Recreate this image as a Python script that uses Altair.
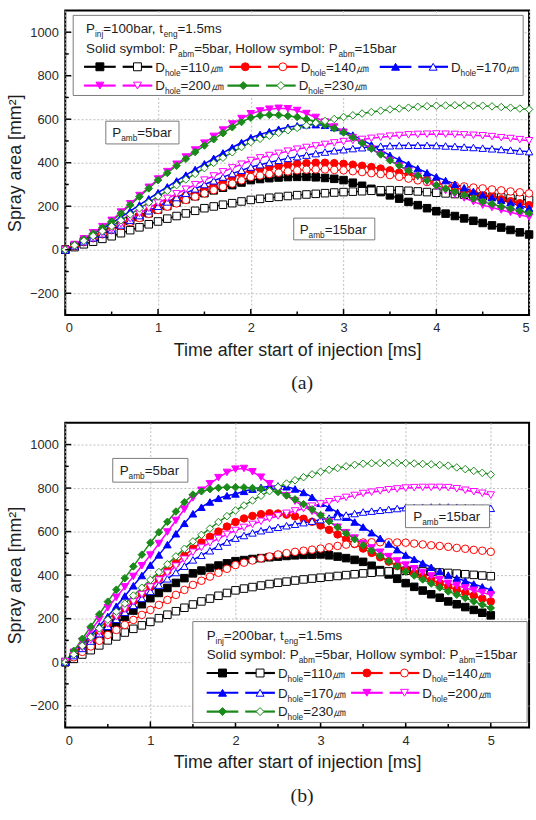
import altair as alt
import pandas as pd

# ---------------- data ----------------
T = [round(i * 0.1, 1) for i in range(51)]
DIAMS = [110, 140, 170, 200, 230]

# Panel (a): P_inj = 100 bar
A_S110 = [0,18,38,57,76,95, 114,132,150,168,185, 201,217,232,246,260, 273,285,297,309,320, 325,329,332,334,335, 335,333,330,326,320, 308,294,280,265,250, 235,220,205,191,177, 166,155,144,133,123, 112,102,91,80,70]
A_H110 = [0,12,25,37,50,62, 76,90,103,117,130, 143,155,167,179,191, 199,207,214,222,229, 234,239,243,247,251, 254,257,260,263,265, 267,269,271,273,274, 273,271,268,265,262, 259,256,253,249,246, 243,240,236,232,229]
A_S140 = [0,17,36,55,73,92, 113,134,155,177,198, 215,232,249,265,282, 299,316,333,349,365, 372,379,385,390,395, 398,400,400,398,395, 391,386,380,373,365, 355,345,334,322,310, 298,286,274,262,251, 242,232,223,214,205]
A_H140 = [0,17,35,53,71,90, 109,128,146,165,183, 198,213,229,244,259, 274,289,304,319,334, 341,348,354,360,365, 368,369,369,367,365, 361,357,352,348,343, 335,327,319,311,304, 300,295,291,286,282, 277,273,268,264,259]
A_S170 = [0,22,46,72,97,122, 150,178,206,234,262, 289,316,343,369,395, 420,445,470,493,515, 530,543,554,563,570, 574,575,572,562,547, 527,505,482,458,434, 413,393,373,354,335, 318,301,285,268,252, 240,228,216,203,191]
A_H170 = [0,18,37,55,73,92, 114,136,157,179,200, 220,240,260,280,300, 317,334,350,365,380, 391,401,411,420,428, 435,442,449,455,460, 465,469,473,476,478, 479,480,480,480,479, 477,475,472,470,467, 464,461,458,454,451]
A_S200 = [0,24,50,78,106,135, 173,211,249,287,325, 359,393,426,458,490, 521,550,578,603,625, 638,646,650,648,640, 626,608,587,564,540, 515,489,463,437,410, 385,361,337,313,290, 272,255,238,221,205, 194,183,172,161,150]
A_H200 = [0,18,37,57,76,95, 119,143,167,191,215, 236,257,278,299,320, 339,358,376,393,410, 422,433,443,453,462, 470,477,484,491,497, 502,507,512,517,522, 525,528,530,531,532, 531,530,528,526,524, 520,515,511,506,501]
A_S230 = [0,23,48,75,102,130, 168,206,244,282,320, 353,386,418,449,479, 508,536,563,587,607, 617,620,619,615,610, 600,588,574,558,539, 516,491,465,438,411, 387,364,341,319,297, 281,266,251,236,221, 210,199,189,178,168]
A_H230 = [0,20,41,63,85,108, 135,162,190,217,245, 271,297,323,349,375, 399,423,448,472,495, 510,524,537,549,560, 571,582,592,601,610, 618,626,633,639,645, 649,653,657,660,662, 663,664,663,662,662, 659,656,653,649,645]

# Panel (b): P_inj = 200 bar
B_S110 = [0,25,55,86,118,150, 179,208,237,266,294, 318,341,364,386,408, 421,433,444,454,464, 469,474,478,482,485, 488,491,493,494,495, 491,485,478,470,461, 443,423,403,383,363, 346,329,312,296,279, 266,253,240,227,215]
B_H110 = [0,15,35,55,77,100, 118,136,153,169,185, 202,218,234,250,265, 279,292,305,318,330, 338,345,352,359,365, 370,375,380,384,388, 392,396,400,404,408, 411,414,417,419,420, 419,417,415,412,410, 407,404,401,398,395]
B_S140 = [0,30,65,100,137,175, 210,245,280,314,347, 383,419,455,489,522, 550,576,600,623,644, 660,672,680,684,683, 678,670,659,645,628, 608,587,565,543,522, 502,482,462,442,423, 407,392,377,362,347, 333,319,306,292,279]
B_H140 = [0,22,47,72,98,125, 148,171,194,217,240, 263,286,309,332,355, 374,393,411,429,446, 457,467,477,486,495, 501,507,512,517,522, 528,534,540,545,550, 551,551,551,550,549, 545,541,537,534,530, 525,521,516,512,507]
B_S170 = [0,38,80,123,166,210, 257,304,351,398,446, 493,540,590,638,682, 712,736,753,765,773, 785,795,803,808,810, 806,796,780,758,730, 710,688,666,644,621, 595,569,543,517,492, 473,455,436,418,400, 386,373,359,346,332]
B_H170 = [0,30,63,97,131,165, 197,229,261,293,325, 354,383,412,441,470, 491,512,533,552,570, 582,594,604,612,620, 627,634,641,648,655, 662,669,676,683,690, 694,698,702,706,710, 711,712,713,713,713, 712,711,710,708,707]
B_S200 = [0,45,95,145,197,250, 298,346,394,443,492, 545,598,651,703,755, 790,820,848,872,887, 890,875,850,820,790, 765,740,716,693,670, 645,620,595,570,545, 525,505,485,465,446, 429,412,396,379,362, 352,341,330,320,309]
B_H200 = [0,32,67,102,138,175, 209,243,277,311,345, 377,409,441,473,505, 527,548,568,587,605, 619,633,647,660,672, 684,695,706,717,727, 737,747,757,766,775, 781,787,792,796,800, 802,803,803,803,802, 797,790,783,776,768]
B_S230 = [0,52,107,163,220,278, 333,386,440,494,549, 597,645,692,735,770, 785,795,801,804,804, 803,800,796,790,782, 766,748,726,702,675, 648,620,592,565,537, 512,488,464,440,416, 398,380,361,343,325, 310,295,279,264,249]
B_H230 = [0,35,75,115,155,195, 232,269,306,342,378, 414,450,486,521,555, 585,614,644,671,697, 720,743,765,786,805, 821,836,850,863,875, 884,892,900,907,912, 914,915,916,916,915, 913,911,909,906,903, 895,887,879,870,862]

X_LABELS = [0, 1, 2, 3, 4, 5]
X_MINOR = [0.5, 1.5, 2.5, 3.5, 4.5]
Y_LABELS = [-200, 0, 200, 400, 600, 800, 1000]
Y_MINOR = [-100, 100, 300, 500, 700, 900]
Y_DOMAIN = [-300, 1100]

# ---------------- styles ----------------
FONT = "Liberation Sans, Arial, Helvetica, sans-serif"
TXT = "#1e1e1e"
COLORS = {110: "#000000", 140: "#ff0000", 170: "#0000ff", 200: "#ff00ff", 230: "#1a8a1a"}
SHAPES = {110: "square", 140: "circle", 170: "triangle-up", 200: "triangle-down", 230: "diamond"}
PW = 469
PH = 308
MSIZE = 58
LFS = 13.5

CW = {' ': 278, '=': 584, ',': 278, '.': 278, ':': 278, 'P': 667, 'D': 722, 'S': 667,
      'H': 722, 'a': 556, 'b': 556, 'c': 500, 'd': 556, 'e': 556, 'g': 556, 'h': 556,
      'i': 222, 'j': 222, 'l': 222, 'm': 833, 'n': 556, 'o': 556, 'r': 333, 's': 500,
      't': 278, 'y': 500, 'w': 722, '\u339b': 1000}


def text_w(s, fs):
    return sum(CW.get(c, 556) for c in s) / 1000.0 * fs


def series_df(series):
    rows = []
    for D in DIAMS:
        for amb in (5, 15):
            for t, v in zip(T, series[(D, amb)]):
                rows.append(dict(t=t, area=v, key=f"{D}-{amb}", col=COLORS[D],
                                 fillc=COLORS[D] if amb == 5 else "white", shp=SHAPES[D]))
    return pd.DataFrame(rows)


def build_panel(series, xmax, pinj, legend_box, head_xy, head_dy, entries, amb_boxes, tag):
    # layout helpers: plot-area pixel offsets -> data coordinates of this panel
    def dx(px):
        return px / PW * xmax

    def dy(py):
        return Y_DOMAIN[1] - py / PH * (Y_DOMAIN[1] - Y_DOMAIN[0])

    def rich(x, y, parts, fs=LFS):
        rows = []
        cx = x
        for txt, sub in parts:
            f = fs * 0.62 if sub else fs
            rows.append(dict(t=dx(cx), area=dy(y + (fs * 0.3 if sub else 0)), txt=txt, fs=f))
            cx += text_w(txt, f)
        return rows

    df = series_df(series)
    xs = alt.Scale(domain=[0, xmax], nice=False, zero=False)
    ys = alt.Scale(domain=Y_DOMAIN, nice=False, zero=False)
    xaxis = alt.Axis(values=X_LABELS, format="d", labelFont=FONT, labelFontSize=13, labelColor="#2a2a2a",
                     labelPadding=7, ticks=False, domain=False, grid=True,
                     gridDash=[2, 2], gridColor="#bdbdbd", gridWidth=1,
                     title="Time after start of injection [ms]", titleFont=FONT, titleFontSize=18,
                     titleFontWeight="normal", titleColor=TXT, titlePadding=7)
    yaxis = alt.Axis(values=Y_LABELS, format="d", labelFont=FONT, labelFontSize=13, labelColor="#2a2a2a",
                     labelPadding=7, ticks=False, domain=False, grid=True,
                     gridDash=[2, 2], gridColor="#bdbdbd", gridWidth=1,
                     title="Spray area [mm\u00b2]", titleFont=FONT, titleFontSize=18,
                     titleFontWeight="normal", titleColor=TXT, titlePadding=5)

    # every other layer uses the same shared scales (no axis spec: merged with the explicit one)
    X = lambda f="t:Q": alt.X(f)
    Y = lambda f="area:Q": alt.Y(f)

    lines = alt.Chart(df).mark_line(strokeWidth=1.5).encode(
        x=alt.X("t:Q", scale=xs, axis=xaxis),
        y=alt.Y("area:Q", scale=ys, axis=yaxis),
        color=alt.Color("col:N", scale=None),
        detail="key:N",
    )
    points = alt.Chart(df).mark_point(filled=True, size=MSIZE, strokeWidth=1, opacity=1).encode(
        x=X(), y=Y(),
        fill=alt.Fill("fillc:N", scale=None),
        stroke=alt.Stroke("col:N", scale=None),
        shape=alt.Shape("shp:N", scale=None),
    )

    # inward ticks
    ytick_major = alt.Chart(pd.DataFrame({"area": Y_LABELS})).mark_rule(color="black", strokeWidth=1.5).encode(
        y=Y(), x=alt.value(0), x2=alt.value(6))
    ytick_minor = alt.Chart(pd.DataFrame({"area": Y_MINOR})).mark_rule(color="black", strokeWidth=1.5).encode(
        y=Y(), x=alt.value(0), x2=alt.value(3.5))
    xtick_major = alt.Chart(pd.DataFrame({"t": X_LABELS})).mark_rule(color="black", strokeWidth=1.5).encode(
        x=X(), y=alt.value(PH), y2=alt.value(PH - 6))
    xtick_minor = alt.Chart(pd.DataFrame({"t": X_MINOR})).mark_rule(color="black", strokeWidth=1.5).encode(
        x=X(), y=alt.value(PH), y2=alt.value(PH - 3.5))

    # boxes (legend + annotations)
    boxes = [dict(t=dx(legend_box[0]), t2=dx(legend_box[2]), area=dy(legend_box[1]), area2=dy(legend_box[3]))]
    texts = []
    for (bx1, by1, bx2, by2, tx, val) in amb_boxes:
        boxes.append(dict(t=dx(bx1), t2=dx(bx2), area=dy(by1), area2=dy(by2)))
        texts += rich(tx, (by1 + by2) / 2 + 4.8, [("P", 0), ("amb", 1), (f"={val}bar", 0)])
    box_layer = alt.Chart(pd.DataFrame(boxes)).mark_rect(fill="white", stroke="#7a7a7a", strokeWidth=1).encode(
        x=X(), x2="t2:Q", y=Y(), y2="area2:Q")

    hx, hy = head_xy
    texts += rich(hx, hy, [("P", 0), ("inj", 1), (f"={pinj}bar, t", 0), ("eng", 1), ("=1.5ms", 0)])
    texts += rich(hx, hy + head_dy, [("Solid symbol: P", 0), ("abm", 1), ("=5bar, Hollow symbol: P", 0),
                                    ("abm", 1), ("=15bar", 0)])

    seg_rows = []
    mk_rows = []
    for (x0, yc, D) in entries:
        seg_rows.append(dict(t=dx(x0), t2=dx(x0 + 32), area=dy(yc), col=COLORS[D]))
        seg_rows.append(dict(t=dx(x0 + 39), t2=dx(x0 + 69), area=dy(yc), col=COLORS[D]))
        mk_rows.append(dict(t=dx(x0 + 16), area=dy(yc), col=COLORS[D], fillc=COLORS[D], shp=SHAPES[D]))
        mk_rows.append(dict(t=dx(x0 + 54), area=dy(yc), col=COLORS[D], fillc="white", shp=SHAPES[D]))
        texts += rich(x0 + 72, yc + 4.8, [("D", 0), ("hole", 1), (f"={D}\u339b", 0)])

    seg_layer = alt.Chart(pd.DataFrame(seg_rows)).mark_rule(strokeWidth=2.2).encode(
        x=X(), x2="t2:Q", y=Y(), color=alt.Color("col:N", scale=None))
    mk_layer = alt.Chart(pd.DataFrame(mk_rows)).mark_point(filled=True, size=MSIZE + 6, strokeWidth=1, opacity=1).encode(
        x=X(), y=Y(),
        fill=alt.Fill("fillc:N", scale=None), stroke=alt.Stroke("col:N", scale=None),
        shape=alt.Shape("shp:N", scale=None))
    text_layer = alt.Chart(pd.DataFrame(texts)).mark_text(align="left", baseline="alphabetic", font=FONT,
                                                          color=TXT).encode(
        x=X(), y=Y(), text="txt:N", size=alt.Size("fs:Q", scale=None))
    tag_layer = alt.Chart(pd.DataFrame({"s": [tag]})).mark_text(
        font="Liberation Serif, Times New Roman, serif", fontSize=20, align="center", baseline="middle",
        color=TXT).encode(x=alt.value(PW / 2 + 5), y=alt.value(PH + 69), text="s:N")

    return alt.layer(lines, points, xtick_major, xtick_minor, ytick_major, ytick_minor, box_layer,
                     seg_layer, mk_layer, text_layer, tag_layer).properties(width=PW, height=PH)


series_a = {(110, 5): A_S110, (110, 15): A_H110, (140, 5): A_S140, (140, 15): A_H140,
            (170, 5): A_S170, (170, 15): A_H170, (200, 5): A_S200, (200, 15): A_H200,
            (230, 5): A_S230, (230, 15): A_H230}
series_b = {(110, 5): B_S110, (110, 15): B_H110, (140, 5): B_S140, (140, 15): B_H140,
            (170, 5): B_S170, (170, 15): B_H170, (200, 5): B_S200, (200, 15): B_H200,
            (230, 5): B_S230, (230, 15): B_H230}

panel_a = build_panel(
    series_a, 5.0, 100,
    legend_box=(8, 5, 463, 86), head_xy=(21, 23), head_dy=20,
    entries=[(19, 57, 110), (166, 57, 140), (318, 57, 170), (19, 76, 200), (164, 76, 230)],
    amb_boxes=[(41, 112, 115, 135, 47.5, 5), (231, 210, 313, 232, 237, 15)],
    tag="(a)")

panel_b = build_panel(
    series_b, 5.45, 200,
    legend_box=(129, 201, 467, 303), head_xy=(143, 220), head_dy=19,
    entries=[(143, 253, 110), (289, 253, 140), (143, 273, 170), (289, 273, 200), (143, 292, 230)],
    amb_boxes=[(48, 36, 124, 60, 55, 5), (344, 83, 429, 106, 352, 15)],
    tag="(b)")

chart = alt.vconcat(panel_a, panel_b, spacing=109, bounds="flush").properties(
    padding={"left": 5, "top": 5, "right": 0, "bottom": 0}, background="white"
).configure_view(stroke="black", strokeWidth=2)

chart.save("out.html", embed_options={"renderer": "svg", "actions": False})
